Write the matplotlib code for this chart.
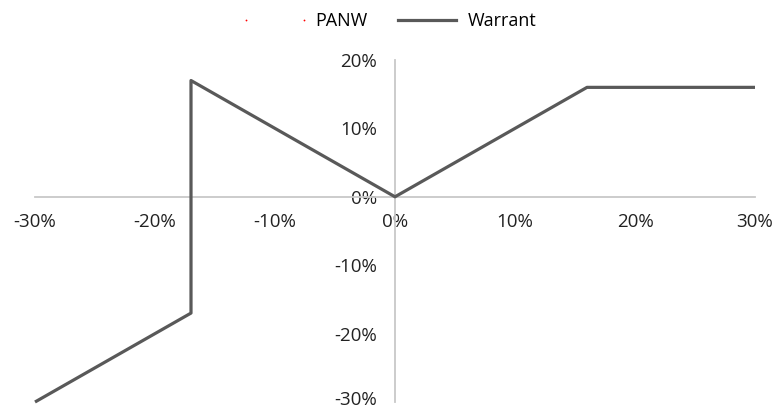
import matplotlib
matplotlib.use("Agg")
import matplotlib.pyplot as plt
import matplotlib.transforms as mtransforms
from matplotlib.lines import Line2D
from matplotlib.ticker import FuncFormatter

# Data (percent)
panw_move = [-30, -17, -17, 0, 16, 30]
warrant_ret = [-30, -17, 17, 0, 16, 16]
x_ticks = [-30, -20, -10, 0, 10, 20, 30]
y_ticks = [-30, -20, -10, 0, 10, 20]

plt.rcParams['font.family'] = ['Open Sans', 'DejaVu Sans']

fig = plt.figure(figsize=(7.77, 4.11), dpi=100)
W, H = 777, 411
x0, x1 = 35, 755
ytop, ybot = 60, 402
ax = fig.add_axes([x0 / W, (H - ybot) / H, (x1 - x0) / W, (ybot - ytop) / H])
ax.set_xlim(-30, 30)
ax.set_ylim(-30, 20)

ax.plot(panw_move, warrant_ret, color='#595959', lw=2.3, clip_on=False,
        solid_joinstyle='round', solid_capstyle='butt', zorder=3)

for s in ['top', 'right']:
    ax.spines[s].set_visible(False)
ax.spines['bottom'].set_position(('data', 0))
ax.spines['left'].set_position(('data', 0))
for s in ['bottom', 'left']:
    ax.spines[s].set_color('#c8c8c8')
    ax.spines[s].set_linewidth(1.3)

fmt = FuncFormatter(lambda v, p: f"{int(v)}%")
ax.set_xticks(x_ticks)
ax.set_yticks(y_ticks)
ax.xaxis.set_major_formatter(fmt)
ax.yaxis.set_major_formatter(fmt)
ax.tick_params(axis='x', length=0, pad=11.5, labelsize=13.5, colors='#222222')
ax.tick_params(axis='y', length=0, pad=13, labelsize=13.5, colors='#222222')
ax.patch.set_alpha(0)

# nudge the bottom y label slightly up so it stays inside the canvas
fig.canvas.draw()
lbl = ax.yaxis.get_majorticklabels()[0]
lbl.set_transform(lbl.get_transform() + mtransforms.ScaledTranslation(0, 3 / 72, fig.dpi_scale_trans))

h1 = Line2D([], [], linestyle='none', marker='o', markersize=1.3,
            color='red', markeredgewidth=0)
h2 = Line2D([], [], color='#595959', lw=2.3)
fig.legend([h1, h2], ['PANW', 'Warrant'], loc='center', bbox_to_anchor=(0.5, 1 - 21.5 / H),
           ncol=2, frameon=False, fontsize=13, numpoints=2, handlelength=3.8,
           handletextpad=0.35, columnspacing=1.4)

fig.savefig('out.png', dpi=100)
